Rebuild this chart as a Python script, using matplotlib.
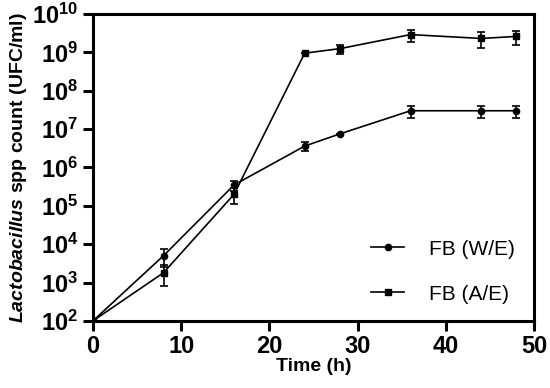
import math
import matplotlib
matplotlib.use("Agg")
import matplotlib.pyplot as plt
from matplotlib.ticker import LogLocator, NullLocator, FuncFormatter

plt.rcParams['font.family'] = ['Liberation Sans', 'DejaVu Sans']
plt.rcParams['mathtext.fontset'] = 'custom'
plt.rcParams['mathtext.rm'] = 'Liberation Sans:bold'
plt.rcParams['mathtext.bf'] = 'Liberation Sans:bold'
plt.rcParams['mathtext.it'] = 'Liberation Sans:italic:bold'

time_h = [0, 8, 16, 24, 28, 36, 44, 48]
we_count = [1e2, 5e3, 3.5e5, 3.6e6, 7.5e6, 3e7, 3e7, 3e7]
we_err = [0, 2.5e3, 1e5, 0.9e6, 0, 1e7, 1e7, 1e7]
ae_count = [1e2, 1.8e3, 2e5, 9.5e8, 1.25e9, 2.9e9, 2.3e9, 2.6e9]
ae_err = [0, 1e3, 0.9e5, 0, 0.35e9, 1e9, 1e9, 1e9]

fig = plt.figure(figsize=(5.5, 3.88), dpi=100)
ax = fig.add_axes([0.169, 0.173, 0.802, 0.791])

ax.errorbar(time_h, we_count, yerr=we_err, fmt="none", ecolor="black",
            elinewidth=1.2, capsize=3, capthick=1.2)
ax.errorbar(time_h, ae_count, yerr=ae_err, fmt="none", ecolor="black",
            elinewidth=1.2, capsize=3, capthick=1.2)
ax.plot(time_h, we_count, color="black", marker="o", markersize=4.5, linewidth=1.2, label="FB (W/E)")
ax.plot(time_h, ae_count, color="black", marker="s", markersize=4.5, linewidth=1.2, label="FB (A/E)")

ax.set_yscale("log")
ax.set_ylim(1e2, 1e10)
ax.set_xlim(0, 50)
ax.set_xticks([0, 10, 20, 30, 40, 50])
ax.yaxis.set_major_locator(LogLocator(base=10, numticks=20))
ax.yaxis.set_minor_locator(NullLocator())
ax.yaxis.set_major_formatter(FuncFormatter(lambda v, p: r"$10^{%d}$" % round(math.log10(v))))

for s in ax.spines.values():
    s.set_linewidth(2.2)
ax.tick_params(direction="out", length=7, width=2.2, labelsize=17)
for lab in ax.get_xticklabels():
    lab.set_fontweight("bold")

ax.set_xlabel("Time (h)", fontsize=14, fontweight="bold", labelpad=0)
ax.set_ylabel(r"$\mathit{Lactobacillus}$ spp count (UFC/ml)", fontsize=14, fontweight="bold", labelpad=2)

leg = ax.legend(loc="lower right", bbox_to_anchor=(1.0, -0.005), frameon=False, fontsize=15,
                handlelength=1.6, labelspacing=1.25, handletextpad=1.2)

fig.savefig("out.png", dpi=100)
